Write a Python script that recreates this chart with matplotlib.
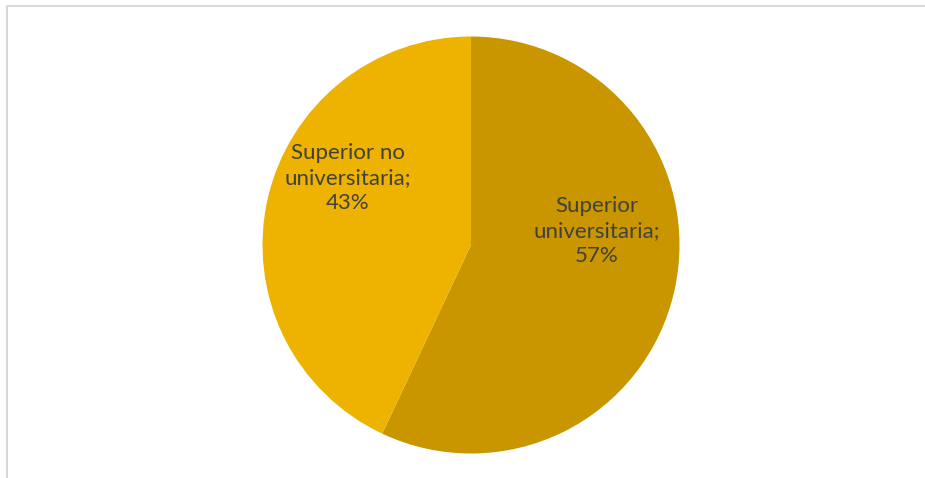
import matplotlib.pyplot as plt

# datos de nivel de estudios
categorias = ['Superior universitaria', 'Superior no universitaria']
porcentajes = [57, 43]
colores = ['#C99600', '#EEB200']

plt.rcParams['font.family'] = ['Lato', 'DejaVu Sans']

fig = plt.figure(figsize=(9.25, 4.78), dpi=100)
ax = fig.add_axes([0, 0, 1, 1])

# eje y invertido: startangle=-90 queda arriba y el sentido antihorario
# en datos se ve horario en pantalla
wedges, textos = ax.pie(porcentajes, colors=colores, startangle=-90, counterclock=True,
                        center=(471, 245), radius=208.5, frame=True,
                        labels=[f'{c};\n{p}%' for c, p in zip(categorias, porcentajes)],
                        textprops=dict(color='#404040', fontsize=16, ha='center',
                                       va='center', linespacing=1.3))
ax.set_xlim(0, 925)
ax.set_ylim(478, 0)
ax.set_aspect('equal')
ax.axis('off')

# marco del área del gráfico
ax.plot([7, 7, 925], [478, 6, 6], color='#D9D9D9', lw=1.5)

# etiquetas dentro de cada sector
textos[0].set_text('Superior\nuniversitaria;\n57%')
textos[0].set_position((597, 231))
textos[1].set_text('Superior no\nuniversitaria;\n43%')
textos[1].set_position((348, 178))

fig.savefig('out.png', dpi=100)
